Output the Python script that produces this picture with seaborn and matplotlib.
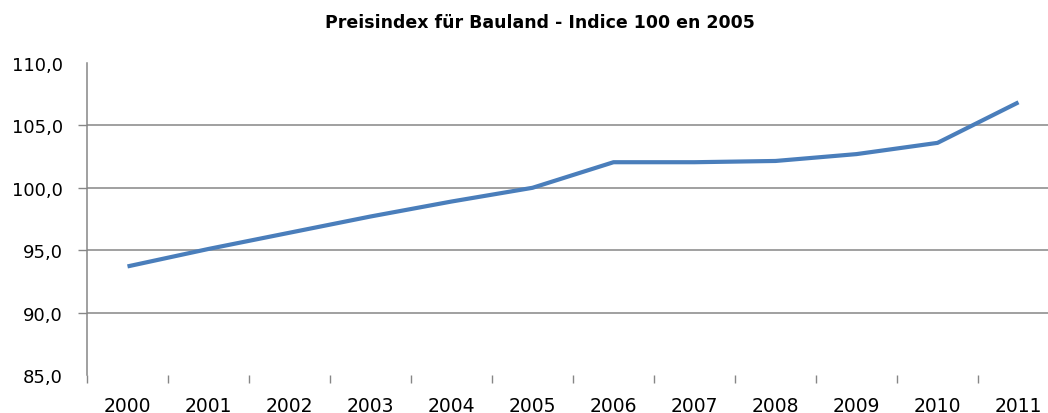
import matplotlib
matplotlib.use('Agg')
import matplotlib.pyplot as plt
import seaborn as sns
import pandas as pd

years = ['2000', '2001', '2002', '2003', '2004', '2005',
         '2006', '2007', '2008', '2009', '2010', '2011']
index_values = [93.7, 95.1, 96.4, 97.7, 98.9, 100.0,
                102.05, 102.05, 102.15, 102.7, 103.6, 106.85]
y_ticks = [85, 90, 95, 100, 105, 110]

sns.set_style('white')
plt.rcParams['font.family'] = ['DejaVu Sans']

df = pd.DataFrame({'pos': range(len(years)), 'value': index_values})

fig = plt.figure(figsize=(10.48, 4.14), dpi=100)
ax = fig.add_axes([87 / 1048, 38 / 414, 972 / 1048, 312 / 414])

sns.lineplot(data=df, x='pos', y='value', ax=ax, color='#4A7EBB',
             linewidth=3.0, solid_capstyle='butt')

grid_col = '#868686'
ax.set_ylim(85, 110)
ax.set_xlim(-0.5, 11.5)

ax.set_yticks(y_ticks)
ax.set_yticklabels([f'{v:.1f}'.replace('.', ',') for v in y_ticks])
ax.yaxis.grid(True, color=grid_col, linewidth=1.1)
ax.tick_params(axis='y', length=6.5, width=1, color=grid_col, pad=11,
               labelsize=13, labelcolor='black', left=True)
yt = ax.yaxis.get_major_ticks()
yt[0].tick1line.set_visible(False)
yt[-1].tick1line.set_visible(False)
yt[0].gridline.set_visible(False)
yt[-1].gridline.set_visible(False)

# year labels centred between the tick marks
ax.set_xticks([i - 0.5 for i in range(len(years) + 1)])
ax.set_xticklabels([])
ax.set_xticks(range(len(years)), minor=True)
ax.set_xticklabels(years, minor=True)
ax.tick_params(axis='x', which='major', length=5.5, width=1, color=grid_col,
               direction='out', bottom=True)
ax.tick_params(axis='x', which='minor', length=0, pad=15, labelsize=13.5,
               labelcolor='black')

for side in ['top', 'right', 'bottom']:
    ax.spines[side].set_visible(False)
ax.spines['left'].set_color(grid_col)
ax.spines['left'].set_linewidth(1.1)
ax.set_xlabel('')
ax.set_ylabel('')

fig.text(540 / 1048, 1 - 23 / 414, 'Preisindex für Bauland - Indice 100 en 2005',
         ha='center', va='center', fontsize=12.5, fontweight='bold',
         color='black')

fig.savefig('out.png', dpi=100)
